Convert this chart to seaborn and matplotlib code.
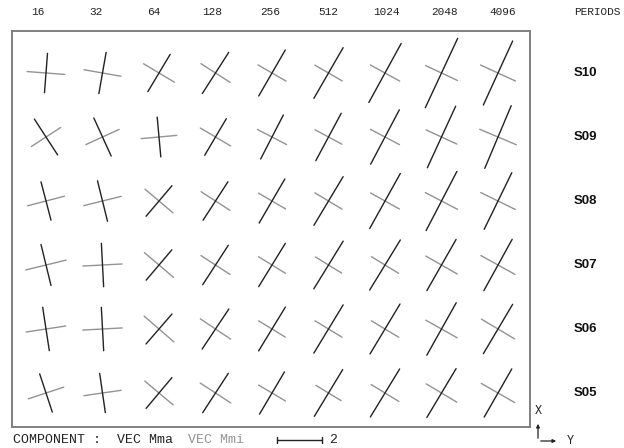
import numpy as np
import pandas as pd
import matplotlib.pyplot as plt
import matplotlib.transforms as mtransforms
import seaborn as sns

# periods (columns) and sites (rows, top to bottom)
periods = ['16', '32', '64', '128', '256', '512', '1024', '2048', '4096']
sites = ['S10', 'S09', 'S08', 'S07', 'S06', 'S05']

# major axis length (VEC Mma), same units as the scale bar ("2")
mma = [
    [1.75, 1.86, 1.93, 2.17, 2.36, 2.60, 2.99, 3.40, 3.13],
    [1.90, 1.86, 1.78, 1.89, 2.20, 2.39, 2.73, 3.01, 3.02],
    [1.76, 1.85, 1.78, 2.04, 2.27, 2.52, 2.80, 2.96, 2.80],
    [1.88, 1.93, 1.77, 2.09, 2.26, 2.49, 2.61, 2.62, 2.61],
    [1.95, 1.93, 1.76, 2.14, 2.28, 2.51, 2.59, 2.67, 2.55],
    [1.79, 1.76, 1.79, 2.09, 2.18, 2.43, 2.50, 2.53, 2.47],
]
# minor axis length (VEC Mmi)
mmi = [
    [1.68, 1.67, 1.60, 1.54, 1.44, 1.41, 1.49, 1.56, 1.71],
    [1.55, 1.63, 1.59, 1.57, 1.46, 1.36, 1.46, 1.51, 1.77],
    [1.70, 1.72, 1.63, 1.52, 1.39, 1.41, 1.47, 1.61, 1.71],
    [1.85, 1.74, 1.70, 1.54, 1.40, 1.37, 1.42, 1.61, 1.73],
    [1.78, 1.75, 1.75, 1.62, 1.39, 1.40, 1.42, 1.60, 1.72],
    [1.66, 1.67, 1.65, 1.62, 1.39, 1.31, 1.44, 1.58, 1.72],
]
# azimuth of the major axis, degrees from X (up), clockwise positive
angle = [
    [4.4, 10.0, 30.9, 32.7, 30.0, 30.0, 28.7, 25.0, 24.6],
    [-33.0, -24.5, -5.2, 30.6, 27.3, 28.2, 27.8, 24.7, 22.9],
    [-14.6, -13.9, 40.3, 32.9, 30.3, 31.0, 29.1, 27.5, 26.0],
    [-13.7, -3.0, 40.3, 33.0, 31.6, 31.6, 31.5, 29.7, 28.9],
    [-8.7, -3.1, 40.9, 33.7, 31.4, 31.3, 31.0, 29.3, 30.7],
    [-18.3, -8.2, 40.0, 33.1, 30.6, 31.3, 31.4, 30.9, 29.8],
]

W, H = 624, 448
PX_PER_UNIT = 22.5  # scale bar "2" is 45 px
MONO = 'Liberation Mono'
DARK = '#222222'
GREY = '#939393'

sns.set_theme(style='white')
plt.rcParams['font.family'] = ['DejaVu Sans']

fig = plt.figure(figsize=(W / 100, H / 100), dpi=100)
box_l, box_r, box_t, box_b = 12, 530, 31, 427
ax = fig.add_axes([box_l / W, 1 - box_b / H, (box_r - box_l) / W, (box_b - box_t) / H])

col0, col_step = 46, 56.5
row0, row_step = 73, 64
xmin = (box_l - col0) / col_step
xmax = (box_r - col0) / col_step
ytop = (box_t - row0) / row_step
ybot = (box_b - row0) / row_step
ax.set_xlim(xmin, xmax)
ax.set_ylim(ybot, ytop)
sx = (box_r - box_l) / (xmax - xmin)   # px per data x
sy = (box_b - box_t) / (ybot - ytop)   # px per data y

rows = []
seg = 0
for r, site in enumerate(sites):
    for c, per in enumerate(periods):
        th = np.radians(angle[r][c])
        parts = [('Mmi', mmi[r][c], np.cos(th), -np.sin(th)),
                 ('Mma', mma[r][c], np.sin(th), np.cos(th))]
        for comp, L, ux, uy in parts:
            h = L * PX_PER_UNIT / 2
            dx = h * ux / sx
            dy = -h * uy / sy
            rows.append(dict(x=c - dx, y=r - dy, seg=seg, comp=comp))
            rows.append(dict(x=c + dx, y=r + dy, seg=seg, comp=comp))
            seg += 1
df = pd.DataFrame(rows)

sns.lineplot(data=df, x='x', y='y', units='seg', estimator=None, sort=False,
             hue='comp', hue_order=['Mmi', 'Mma'],
             palette={'Mma': DARK, 'Mmi': GREY},
             lw=1.0, legend=False, ax=ax)

ax.set_xticks([])
ax.set_yticks([])
ax.set_xlabel('')
ax.set_ylabel('')
for s in ax.spines.values():
    s.set_color('#808080')
    s.set_linewidth(1.4)

# period labels on top (their own spacing, a little wider than the columns)
for c, per in enumerate(periods):
    fig.text((38 + 58.1 * c) / W, 1 - 12 / H, per, ha='center', va='center',
             fontsize=8, family=MONO, color='#222222')
fig.text(597 / W, 1 - 12 / H, 'PERIODS', ha='center', va='center',
         fontsize=8, family=MONO, color='#222222')

# site labels on the right
right = mtransforms.blended_transform_factory(ax.transAxes, ax.transData)
for r, site in enumerate(sites):
    ax.text((585 - box_l) / (box_r - box_l), r, site, transform=right,
            ha='center', va='center', fontsize=9.5, fontweight='bold',
            family='Liberation Sans', color='#111111')

# bottom legend line
yb = 1 - 440 / H
fig.text(13 / W, yb, 'COMPONENT :', ha='left', va='center', fontsize=9.5,
         family=MONO, color='#222222')
fig.text(117 / W, yb, 'VEC Mma', ha='left', va='center', fontsize=9.5,
         family=MONO, color='#222222')
fig.text(188 / W, yb, 'VEC Mmi', ha='left', va='center', fontsize=9.5,
         family=MONO, color=GREY)

# scale bar: 2 units
bar_x0 = 277
bar_x1 = bar_x0 + 2 * PX_PER_UNIT
fig.add_artist(plt.Line2D([bar_x0 / W, bar_x1 / W], [yb, yb], color='#222222', lw=1.0))
for xe in (bar_x0, bar_x1):
    fig.add_artist(plt.Line2D([xe / W, xe / W], [yb - 3 / H, yb + 3 / H],
                              color='#222222', lw=1.0))
fig.text(333 / W, yb, '2', ha='center', va='center', fontsize=9.5,
         family=MONO, color='#222222')

# orientation arrows
ax.annotate('', xy=(538, H - 421), xytext=(538, H - 441), xycoords='figure pixels',
            arrowprops=dict(arrowstyle='-|>', color='#222222', lw=0.9, mutation_scale=5))
ax.annotate('', xy=(559, H - 441), xytext=(538, H - 441), xycoords='figure pixels',
            arrowprops=dict(arrowstyle='-|>', color='#222222', lw=0.9, mutation_scale=5))
fig.text(538 / W, 1 - 411 / H, 'X', ha='center', va='center', fontsize=8.5,
         family=MONO, color='#222222')
fig.text(570 / W, 1 - 441 / H, 'Y', ha='center', va='center', fontsize=8.5,
         family=MONO, color='#222222')

fig.savefig('out.png', dpi=100)
